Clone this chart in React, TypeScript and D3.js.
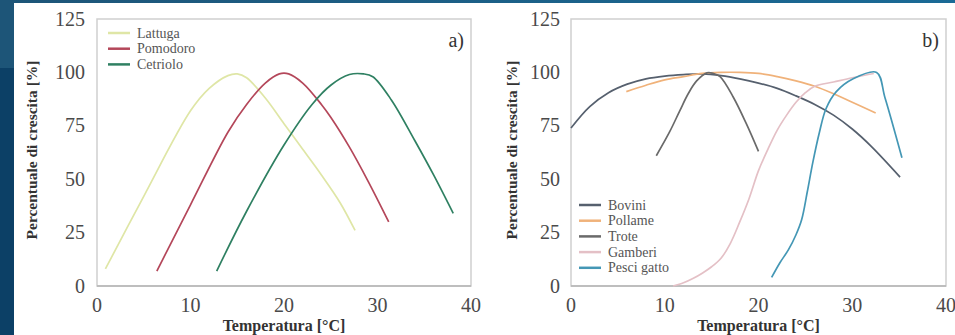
import React from "react";
import * as d3 from "d3";

type P = [number, number];

const xTicks = [0, 10, 20, 30, 40];
const yTicks = [0, 25, 50, 75, 100, 125];

const lattuga: P[] = [[0.9, 8], [5, 42], [10, 82], [12, 92.5], [14, 98.5], [15, 99.3], [16, 97.5], [18, 88], [20, 76], [22, 64], [24, 52], [26, 39], [27.6, 26]];
const pomodoro: P[] = [[6.4, 7], [10, 38], [14, 72], [16, 85], [18, 95], [19.5, 99.3], [20.5, 99.3], [22, 95], [24, 85], [25, 79], [27, 65], [29, 49], [31.2, 30]];
const cetriolo: P[] = [[12.8, 7], [16, 35], [20, 66], [23, 85], [25, 94], [27, 99], [28.5, 99.3], [29.5, 98], [31.5, 87], [34, 68], [36, 52], [38.1, 34]];

const bovini: P[] = [[0, 74], [2, 84], [4, 90.5], [6, 94.5], [8, 97], [10, 98.3], [12, 99], [14, 99.3], [16, 98.5], [18, 97], [20, 95], [22, 92.5], [24, 89], [26, 85], [28, 80], [30, 73.5], [32, 65.5], [35.1, 51]];
const pollame: P[] = [[5.9, 91], [8, 94], [10, 96.5], [12, 98], [14, 99.5], [16, 100], [18, 100], [20, 99.5], [22, 98], [24, 96], [26, 93.5], [28, 90], [30, 86], [32.5, 81]];
const trote: P[] = [[9.1, 61], [10.5, 72], [11.6, 82], [12.5, 90], [13.4, 96], [14.5, 99.8], [15.2, 99.5], [15.9, 98], [17.3, 88.5], [18.7, 76], [20, 63]];
const gamberi: P[] = [[10.9, 0], [12, 1.5], [13, 3.5], [14, 6], [15, 9], [16, 13], [17, 20], [18, 30], [19, 41], [20, 54], [21, 64], [22, 73], [23, 80], [24, 86], [25, 90.5], [26, 93.5], [28, 95.5], [30, 97.5], [32.3, 99.5]];
const pesciGatto: P[] = [[21.4, 4], [22.3, 11], [23.2, 17], [24, 24], [24.6, 31], [25.2, 44], [25.8, 58], [26.5, 72], [27.2, 83], [28.3, 91], [30.1, 97], [32.6, 100], [33.5, 88], [35.3, 60]];

const seriesA = [
  { name: "Lattuga", data: lattuga, color: "#dfe6a6" },
  { name: "Pomodoro", data: pomodoro, color: "#b4475a" },
  { name: "Cetriolo", data: cetriolo, color: "#2f8062" },
];
const seriesB = [
  { name: "Bovini", data: bovini, color: "#56606e" },
  { name: "Pollame", data: pollame, color: "#f0b27a" },
  { name: "Trote", data: trote, color: "#6a6a6a" },
  { name: "Gamberi", data: gamberi, color: "#e4c0c6" },
  { name: "Pesci gatto", data: pesciGatto, color: "#4497b5" },
];

const FONT = "Liberation Serif, Times New Roman, serif";

function Panel({ x0, x1, series, label, legendX, legendY, titleX, yLabelRight }: any) {
  const xs = d3.scaleLinear().domain([0, 40]).range([x0, x1]);
  const ys = d3.scaleLinear().domain([0, 125]).range([286, 19]);
  const line = d3.line<P>().x((d) => xs(d[0])).y((d) => ys(d[1])).curve(d3.curveCatmullRom.alpha(0.5));
  return (
    <g>
      <rect x={x0} y={ys(125)} width={x1 - x0} height={ys(0) - ys(125)} fill="none" stroke="#cfcfcf" strokeWidth={1.5} />
      <line x1={x0} x2={x1} y1={ys(0)} y2={ys(0)} stroke="#b5b5b5" strokeWidth={1.5} />
      {yTicks.map((t) => (
        <text key={t} x={yLabelRight} y={ys(t) + 6.5} textAnchor="end" fontSize={20} fill="#4a4a4a" style={{ fontFamily: FONT }}>{t}</text>
      ))}
      {xTicks.map((t) => (
        <text key={t} x={xs(t)} y={312} textAnchor="middle" fontSize={20} fill="#4a4a4a" style={{ fontFamily: FONT }}>{t}</text>
      ))}
      {series.map((s: any) => (
        <path key={s.name} d={line(s.data) || ""} fill="none" stroke={s.color} strokeWidth={1.7} />
      ))}
      {series.map((s: any, i: number) => (
        <g key={s.name}>
          <line x1={legendX} x2={legendX + 22} y1={legendY + i * 15.7} y2={legendY + i * 15.7} stroke={s.color} strokeWidth={2.5} />
          <text x={legendX + 29} y={legendY + i * 15.7 + 4.5} fontSize={14} fill="#555" style={{ fontFamily: FONT }}>{s.name}</text>
        </g>
      ))}
      <text x={x1 - 7} y={47} textAnchor="end" fontSize={20} fill="#333" style={{ fontFamily: FONT }}>{label}</text>
      <text x={(x0 + x1) / 2} y={331} textAnchor="middle" fontSize={16} fontWeight="bold" fill="#333" style={{ fontFamily: FONT }}>Temperatura [°C]</text>
      <text transform={`translate(${titleX},150) rotate(-90)`} textAnchor="middle" fontSize={15.5} fontWeight="bold" fill="#333" style={{ fontFamily: FONT }}>Percentuale di crescita [%]</text>
    </g>
  );
}

export default function App() {
  return (
    <svg width={955} height={335} style={{ position: "fixed", left: 0, top: 0 }}>
      <defs>
        <linearGradient id="topg" x1="0" x2="1" y1="0" y2="0">
          <stop offset="0" stopColor="#1d5578" />
          <stop offset="1" stopColor="#1a6a96" />
        </linearGradient>
      </defs>
      <rect x={0} y={0} width={955} height={335} fill="#ffffff" />
      <rect x={0} y={0} width={955} height={3} fill="url(#topg)" />
      <rect x={0} y={0} width={14} height={68} fill="#1d5578" />
      <rect x={0} y={68} width={14} height={267} fill="#0c4066" />
      <Panel x0={97} x1={471} series={seriesA} label="a)" legendX={108} legendY={33} titleX={37} yLabelRight={85} />
      <Panel x0={571} x1={946} series={seriesB} label="b)" legendX={579} legendY={205} titleX={517} yLabelRight={560} />
    </svg>
  );
}
